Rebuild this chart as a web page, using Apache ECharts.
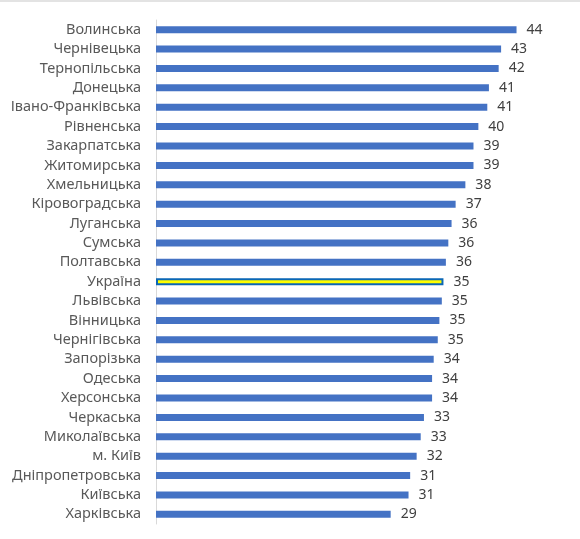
<!DOCTYPE html>
<html>
<head>
<meta charset="utf-8">
<script src="https://cdn.jsdelivr.net/npm/echarts@6/dist/echarts.min.js"></script>
<style>
  html, body { margin: 0; padding: 0; background: #fff; }
  #chart { width: 580px; height: 539px; box-sizing: border-box; border-top: 2px solid #e3e3e3; }
</style>
</head>
<body>
<div id="chart"></div>
<script>
// області, зверху вниз
const regions = [
  'Волинська', 'Чернівецька', 'Тернопільська', 'Донецька', 'Івано-Франківська',
  'Рівненська', 'Закарпатська', 'Житомирська', 'Хмельницька', 'Кіровоградська',
  'Луганська', 'Сумська', 'Полтавська', 'Україна', 'Львівська', 'Вінницька',
  'Чернігівська', 'Запорізька', 'Одеська', 'Херсонська', 'Черкаська',
  'Миколаївська', 'м. Київ', 'Дніпропетровська', 'Київська', 'Харківська'
];
// значення (оцінка за довжиною стовпчиків, підписи округлені)
const values = [
  44.4, 42.5, 42.2, 41.0, 40.8,
  39.7, 39.1, 39.1, 38.1, 36.9,
  36.4, 36.0, 35.7, 35.4, 35.2, 34.9,
  34.7, 34.2, 34.0, 34.0, 33.0,
  32.6, 32.1, 31.3, 31.1, 28.9
];
const highlight = 'Україна';

const chart = echarts.init(document.getElementById('chart'));

const barData = values.map((v, i) => {
  if (regions[i] !== highlight) return v;
  return {
    value: v,
    itemStyle: { color: '#ffff00', borderColor: '#0b67b5', borderWidth: 2 }
  };
});

chart.setOption({
  animation: false,
  grid: { left: 156, right: 18, top: 18, bottom: 15 },
  xAxis: {
    type: 'value',
    min: 0,
    max: 50,
    show: false,
    splitLine: { show: false }
  },
  yAxis: {
    type: 'category',
    data: regions,
    inverse: true,
    axisLine: { lineStyle: { color: '#d9d9d9' } },
    axisTick: { show: false },
    axisLabel: {
      interval: 0,
      color: '#595959',
      fontFamily: 'Noto Sans',
      fontSize: 14.5,
      margin: 15
    }
  },
  series: [{
    type: 'bar',
    data: barData,
    barWidth: 7,
    itemStyle: { color: '#4472c4' },
    label: {
      show: true,
      position: 'right',
      distance: 10,
      color: '#404040',
      fontFamily: 'Noto Sans',
      fontSize: 14,
      formatter: p => Math.round(p.value)
    }
  }]
});
</script>
</body>
</html>
